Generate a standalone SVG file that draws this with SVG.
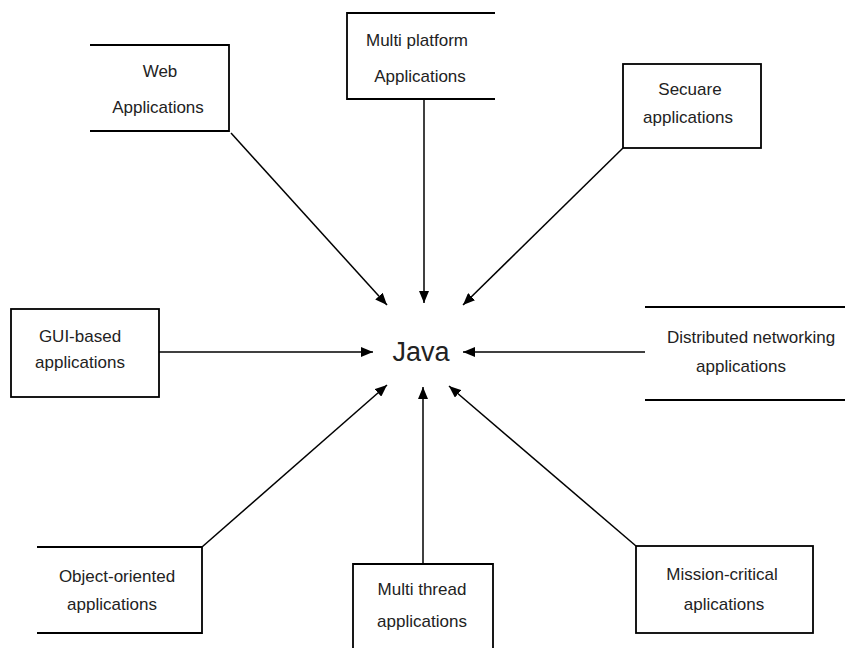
<svg xmlns="http://www.w3.org/2000/svg" width="845" height="648" viewBox="0 0 845 648">
<style>
.box{fill:none;stroke:#000;stroke-width:1.8}
.lbl{font-family:"Liberation Sans",Arial,sans-serif;font-size:17px;fill:#222;text-anchor:middle}
.edge{stroke:#000;stroke-width:1.5;fill:none;marker-end:url(#ah)}
.java{font-family:"Liberation Sans",Arial,sans-serif;font-size:27px;fill:#222;text-anchor:middle}
</style>
<defs>
<marker id="ah" viewBox="0 0 12 10" refX="12" refY="5" markerWidth="12" markerHeight="10" markerUnits="userSpaceOnUse" orient="auto">
<path d="M0,0 L12,5 L0,10 Z" fill="#000"/>
</marker>
</defs>
<rect width="845" height="648" fill="#fff"/>
<g id="web">
<path class="box" d="M90,45 H229 V131 H90"/>
<text class="lbl" x="160" y="77">Web</text>
<text class="lbl" x="158" y="113">Applications</text>
</g>
<g id="multiplatform">
<path class="box" d="M495,13 H347 V99 H495"/>
<text class="lbl" x="417" y="46">Multi platform</text>
<text class="lbl" x="420" y="82">Applications</text>
</g>
<g id="secure">
<rect class="box" x="623" y="64" width="138" height="84"/>
<text class="lbl" x="690" y="95">Secuare</text>
<text class="lbl" x="688" y="123">applications</text>
</g>
<g id="gui">
<rect class="box" x="11" y="309" width="148" height="88"/>
<text class="lbl" x="80" y="342">GUI-based</text>
<text class="lbl" x="80" y="368">applications</text>
</g>
<g id="java">
<text class="java" x="421" y="361">Java</text>
</g>
<g id="distributed">
<path class="box" d="M645,307 H845 M645,400 H845"/>
<text class="lbl" x="751" y="343">Distributed networking</text>
<text class="lbl" x="741" y="372">applications</text>
</g>
<g id="objectoriented">
<path class="box" d="M37,547 H202 V633 H37"/>
<text class="lbl" x="117" y="582">Object-oriented</text>
<text class="lbl" x="112" y="610">applications</text>
</g>
<g id="multithread">
<path class="box" d="M353,648 V564 H493 V648"/>
<text class="lbl" x="422" y="595">Multi thread</text>
<text class="lbl" x="422" y="627">applications</text>
</g>
<g id="mission">
<rect class="box" x="636" y="546" width="177" height="87"/>
<text class="lbl" x="722" y="580">Mission-critical</text>
<text class="lbl" x="724" y="610">aplications</text>
</g>
<g id="connectors">
<line class="edge" x1="231" y1="133" x2="387" y2="305"/>
<line class="edge" x1="424" y1="99" x2="424" y2="303"/>
<line class="edge" x1="623" y1="148" x2="463" y2="305"/>
<line class="edge" x1="159" y1="352" x2="373" y2="352"/>
<line class="edge" x1="645" y1="352" x2="463" y2="352"/>
<line class="edge" x1="202" y1="547" x2="387" y2="385"/>
<line class="edge" x1="423" y1="564" x2="423" y2="387"/>
<line class="edge" x1="636" y1="546" x2="449" y2="386"/>
</g>
</svg>
